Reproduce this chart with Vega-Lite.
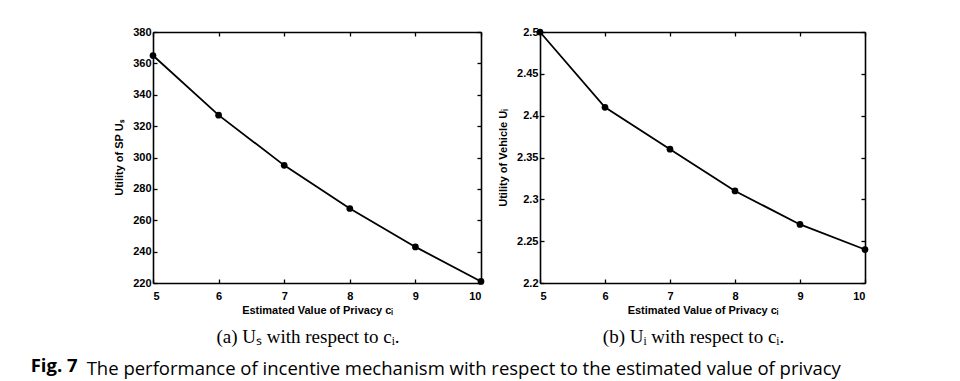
{
  "$schema": "https://vega.github.io/schema/vega-lite/v6.json",
  "background": "white",
  "autosize": {"type": "pad"},
  "padding": {"left": 30, "top": 26, "right": 5, "bottom": 5},
  "config": {
    "view": {"stroke": null},
    "axis": {
      "grid": false,
      "domainColor": "black",
      "domainWidth": 1.6,
      "tickColor": "black",
      "tickWidth": 1.3,
      "tickSize": -4,
      "labelFont": "Liberation Sans",
      "labelFontWeight": "bold",
      "labelFontSize": 11,
      "labelColor": "black",
      "titleFont": "Liberation Sans",
      "titleFontWeight": "bold",
      "titleFontSize": 11,
      "titleColor": "black"
    },
    "axisX": {"labelPadding": 11, "titlePadding": 3},
    "axisY": {"labelPadding": 6, "titlePadding": 8}
  },
  "datasets": {
    "a": [
      {"c": 5, "u": 365},
      {"c": 6, "u": 327},
      {"c": 7, "u": 295},
      {"c": 8, "u": 267.5},
      {"c": 9, "u": 243},
      {"c": 10, "u": 221}
    ],
    "b": [
      {"c": 5, "u": 2.5},
      {"c": 6, "u": 2.41},
      {"c": 7, "u": 2.36},
      {"c": 8, "u": 2.31},
      {"c": 9, "u": 2.27},
      {"c": 10, "u": 2.24}
    ]
  },
  "title": {
    "text": "Fig. 7",
    "orient": "bottom",
    "anchor": "start",
    "font": "Open Sans",
    "fontSize": 18.5,
    "fontWeight": "bold",
    "color": "black",
    "dx": -56,
    "dy": -26
  },
  "vconcat": [
    {
      "title": {
        "text": "The performance of incentive mechanism with respect to the estimated value of privacy",
        "orient": "bottom",
        "anchor": "start",
        "font": "Open Sans",
        "fontSize": 18.5,
        "fontWeight": "normal",
        "color": "black",
        "dx": -27,
        "offset": 13
      },
      "spacing": 12,
      "hconcat": [
        {
          "width": 328,
          "height": 251,
          "data": {"name": "a"},
          "title": {
            "text": "(a) Uₛ with respect to cᵢ.",
            "orient": "bottom",
            "anchor": "middle",
            "font": "Liberation Serif",
            "fontSize": 19,
            "fontWeight": "normal",
            "color": "black",
            "offset": 13,
            "dx": -9
          },
          "layer": [
            {
              "mark": {"type": "line", "color": "black", "strokeWidth": 1.8, "clip": false},
              "encoding": {
                "x": {"field": "c", "type": "quantitative", "scale": {"domain": [5, 10], "nice": false, "zero": false},
                      "axis": {"orient": "bottom", "values": [5, 6, 7, 8, 9, 10], "title": "Estimated Value of Privacy cᵢ"}},
                "y": {"field": "u", "type": "quantitative", "scale": {"domain": [220, 380], "nice": false, "zero": false},
                      "axis": {"orient": "left", "values": [220, 240, 260, 280, 300, 320, 340, 360, 380], "format": "~f", "title": "Utility of SP Uₛ"}}
              }
            },
            {
              "mark": {"type": "point", "filled": true, "color": "black", "size": 45, "opacity": 1, "clip": false},
              "encoding": {
                "x": {"field": "c", "type": "quantitative",
                      "axis": {"orient": "top", "values": [5, 6, 7, 8, 9, 10], "labels": false, "title": null}},
                "y": {"field": "u", "type": "quantitative",
                      "axis": {"orient": "right", "values": [220, 240, 260, 280, 300, 320, 340, 360, 380], "labels": false, "title": null}}
              }
            }
          ],
          "resolve": {"axis": {"x": "independent", "y": "independent"}}
        },
        {
          "width": 325,
          "height": 251,
          "data": {"name": "b"},
          "title": {
            "text": "(b) Uᵢ with respect to cᵢ.",
            "orient": "bottom",
            "anchor": "middle",
            "font": "Liberation Serif",
            "fontSize": 19,
            "fontWeight": "normal",
            "color": "black",
            "offset": 13,
            "dx": -9
          },
          "layer": [
            {
              "mark": {"type": "line", "color": "black", "strokeWidth": 1.8, "clip": false},
              "encoding": {
                "x": {"field": "c", "type": "quantitative", "scale": {"domain": [5, 10], "nice": false, "zero": false},
                      "axis": {"orient": "bottom", "values": [5, 6, 7, 8, 9, 10], "title": "Estimated Value of Privacy cᵢ"}},
                "y": {"field": "u", "type": "quantitative", "scale": {"domain": [2.2, 2.5], "nice": false, "zero": false},
                      "axis": {"orient": "left", "values": [2.2, 2.25, 2.3, 2.35, 2.4, 2.45, 2.5], "format": "~f", "title": "Utility of Vehicle Uᵢ"}}
              }
            },
            {
              "mark": {"type": "point", "filled": true, "color": "black", "size": 45, "opacity": 1, "clip": false},
              "encoding": {
                "x": {"field": "c", "type": "quantitative",
                      "axis": {"orient": "top", "values": [5, 6, 7, 8, 9, 10], "labels": false, "title": null}},
                "y": {"field": "u", "type": "quantitative",
                      "axis": {"orient": "right", "values": [2.2, 2.25, 2.3, 2.35, 2.4, 2.45, 2.5], "labels": false, "title": null}}
              }
            }
          ],
          "resolve": {"axis": {"x": "independent", "y": "independent"}}
        }
      ]
    }
  ]
}
